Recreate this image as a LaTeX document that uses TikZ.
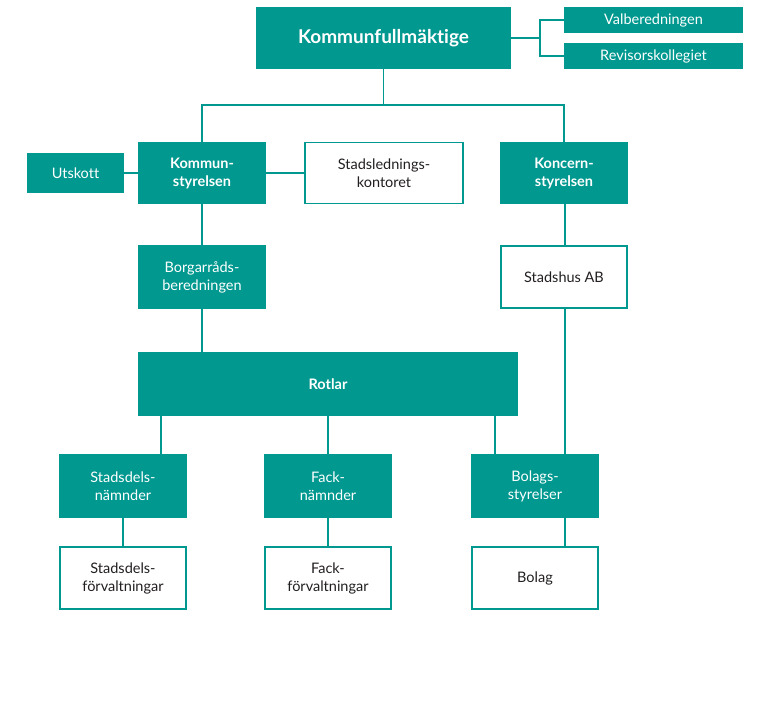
\documentclass[tikz,border=0pt]{standalone}
\usepackage{fontspec}
\setmainfont{Lato}[Ligatures={NoCommon,TeX}]
\definecolor{teal1}{RGB}{0,152,143}
\definecolor{txt}{RGB}{35,31,32}
\tikzset{
  base/.style={rectangle, line width=1.8pt, inner sep=0pt, align=center, font=\fontsize{14.5}{18}\selectfont},
  tealbox/.style={base, fill=teal1, draw=teal1, text=white},
  whitebox/.style={base, fill=white, draw=teal1, text=txt},
  boldtext/.style={font=\fontsize{14.5}{18}\selectfont\bfseries},
  conn/.style={draw=teal1, line width=1.8pt},
}
\begin{document}
\begin{tikzpicture}[x=1pt,y=-1pt]
\useasboundingbox (0,0) rectangle (768,705);
% nodes
\node[tealbox, minimum width=253pt, minimum height=61pt, font=\fontsize{19}{22}\selectfont\bfseries] (kf) at (383.5,38) {Kommunfullmäktige};
\node[tealbox, minimum width=177pt, minimum height=24pt] (val) at (653.5,20) {Valberedningen};
\node[tealbox, minimum width=177pt, minimum height=24pt] (rev) at (653.5,56) {Revisorskollegiet};
\node[tealbox, minimum width=95pt, minimum height=38pt] (uts) at (75.5,173) {Utskott};
\node[tealbox, minimum width=126pt, minimum height=61pt, boldtext] (ks) at (202,173) {Kommun-\\styrelsen};
\node[whitebox, minimum width=158pt, minimum height=61pt] (slk) at (384,173) {Stadslednings-\\kontoret};
\node[tealbox, minimum width=126pt, minimum height=61pt, boldtext] (kc) at (564,173) {Koncern-\\styrelsen};
\node[tealbox, minimum width=126pt, minimum height=62pt] (bb) at (202,277) {Borgarråds-\\beredningen};
\node[whitebox, minimum width=126pt, minimum height=62pt] (sab) at (564,277) {Stadshus AB};
\node[tealbox, minimum width=378pt, minimum height=62pt, boldtext] (rot) at (328,384) {Rotlar};
\node[tealbox, minimum width=126pt, minimum height=62pt] (sdn) at (123,486) {Stadsdels-\\nämnder};
\node[tealbox, minimum width=126pt, minimum height=62pt] (fn) at (328,486) {Fack-\\nämnder};
\node[tealbox, minimum width=126pt, minimum height=62pt] (bs) at (535,486) {Bolags-\\styrelser};
\node[whitebox, minimum width=126pt, minimum height=62pt] (sdf) at (123,578) {Stadsdels-\\förvaltningar};
\node[whitebox, minimum width=126pt, minimum height=62pt] (ff) at (328,578) {Fack-\\förvaltningar};
\node[whitebox, minimum width=126pt, minimum height=62pt] (bol) at (535,578) {Bolag};
% helper coordinates
\coordinate (j1) at (540,38);
\coordinate (bus) at (383.5,105);
\coordinate (xa) at (161,0);
\coordinate (xb) at (495,0);
\coordinate (xc) at (565,0);
% connectors
\draw[conn] (kf.east) -- (j1);
\draw[conn] (val.west) -| (j1) |- (rev.west);
\draw[conn] (kf.south) -- (bus);
\draw[conn] (ks.north) |- (bus) -| (kc.north);
\draw[conn] (uts.east) -- (ks.west);
\draw[conn] (ks.east) -- (slk.west);
\draw[conn] (ks.south) -- (bb.north);
\draw[conn] (bb.south) -- (bb.south |- rot.north);
\draw[conn] (kc.south -| xc) -- (sab.north -| xc);
\draw[conn] (sab.south -| xc) -- (bs.north -| xc);
\draw[conn] (rot.south -| xa) -- (sdn.north -| xa);
\draw[conn] (rot.south -| fn.north) -- (fn.north);
\draw[conn] (rot.south -| xb) -- (bs.north -| xb);
\draw[conn] (sdn.south) -- (sdf.north);
\draw[conn] (fn.south) -- (ff.north);
\draw[conn] (bs.south -| xc) -- (bol.north -| xc);
\end{tikzpicture}
\end{document}
